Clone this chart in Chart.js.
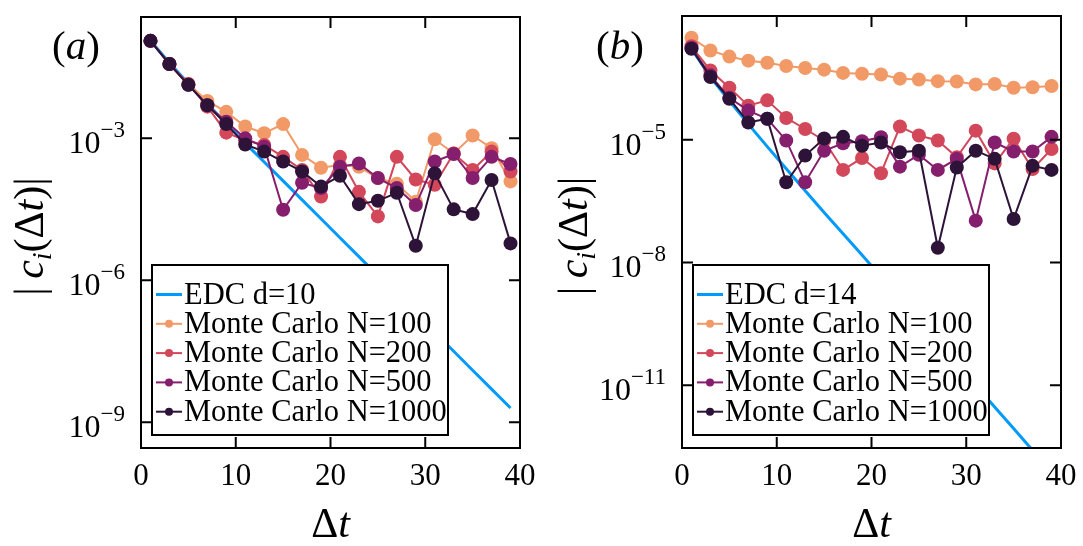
<!DOCTYPE html>
<html>
<head>
<meta charset="utf-8">
<script src="https://cdn.jsdelivr.net/npm/chart.js@4.4.0/dist/chart.umd.min.js"></script>
<style>
  html, body { margin: 0; padding: 0; background: #fff; }
  #wrap { display: flex; width: 1083px; height: 546px; }
  canvas { display: block; }
</style>
</head>
<body>
<div id="wrap">
  <canvas id="chartA" width="541" height="546"></canvas>
  <canvas id="chartB" width="542" height="546"></canvas>
</div>
<script>
// time steps (same for every series)
var dt = [1, 3, 5, 7, 9, 11, 13, 15, 17, 19, 21, 23, 25, 27, 29, 31, 33, 35, 37, 39];
var xTicks = [0, 10, 20, 30, 40];

// panel (a)
var yTicksA = [1e-3, 1e-6, 1e-9];
var yRangeA = [2.86e-10, 0.367];
var labelsA = ["EDC d=10", "Monte Carlo N=100", "Monte Carlo N=200", "Monte Carlo N=500", "Monte Carlo N=1000"];
var edcA = [1.15e-1, 3.98e-2, 1.45e-2, 5.37e-3, 2.04e-3, 7.94e-4, 3.16e-4, 1.26e-4, 5.01e-5, 2.00e-5,
            7.94e-6, 3.16e-6, 1.26e-6, 5.01e-7, 2.00e-7, 7.94e-8, 3.16e-8, 1.26e-8, 5.01e-9, 2.00e-9];
var mc100A = [1.15e-1, 3.72e-2, 1.41e-2, 6.17e-3, 3.63e-3, 1.78e-3, 1.29e-3, 2.00e-3, 4.47e-4, 2.40e-4,
              2.75e-4, 2.51e-4, 1.45e-4, 1.10e-4, 4.57e-5, 9.55e-4, 4.79e-4, 1.15e-3, 6.17e-4, 1.23e-4];
var mc200A = [1.15e-1, 3.72e-2, 1.41e-2, 4.68e-3, 1.32e-3, 9.12e-4, 7.24e-4, 4.07e-4, 2.14e-4, 5.89e-5,
              4.07e-4, 7.41e-5, 2.24e-5, 4.07e-4, 1.35e-4, 1.05e-4, 4.79e-4, 2.14e-4, 5.25e-4, 2.00e-4];
var mc500A = [1.15e-1, 3.72e-2, 1.35e-2, 5.01e-3, 2.24e-3, 1.00e-3, 6.61e-4, 3.09e-5, 1.15e-4, 8.91e-5,
              2.51e-4, 2.95e-4, 1.45e-4, 8.91e-5, 3.89e-5, 3.24e-4, 4.68e-4, 1.45e-4, 4.07e-4, 2.88e-4];
var mc1000A = [1.15e-1, 3.72e-2, 1.35e-2, 5.01e-3, 2.00e-3, 7.41e-4, 5.25e-4, 3.24e-4, 2.00e-4, 9.55e-5,
               1.62e-4, 4.07e-5, 4.79e-5, 7.08e-5, 5.37e-6, 1.82e-4, 3.16e-5, 2.51e-5, 1.32e-4, 6.03e-6];

// panel (b)
var yTicksB = [1e-5, 1e-8, 1e-11];
var yRangeB = [2.92e-13, 0.0105];
var labelsB = ["EDC d=14", "Monte Carlo N=100", "Monte Carlo N=200", "Monte Carlo N=500", "Monte Carlo N=1000"];
var edcB = [1.66e-3, 3.39e-4, 8.91e-5, 2.40e-5, 6.76e-6, 1.95e-6, 5.62e-7, 1.66e-7, 5.01e-8, 1.51e-8,
            4.47e-9, 1.32e-9, 3.89e-10, 1.15e-10, 3.39e-11, 1.00e-11, 2.95e-12, 8.71e-13, 2.57e-13, 7.59e-14];
var mc100B = [3.09e-3, 1.51e-3, 1.07e-3, 8.51e-4, 7.59e-4, 6.31e-4, 5.62e-4, 5.13e-4, 4.27e-4, 4.07e-4,
              3.89e-4, 3.09e-4, 2.95e-4, 2.69e-4, 2.63e-4, 2.24e-4, 2.29e-4, 1.86e-4, 1.91e-4, 2.04e-4];
var mc200B = [1.91e-3, 4.90e-4, 1.86e-4, 6.76e-5, 9.12e-5, 3.39e-5, 1.82e-5, 9.55e-6, 1.82e-6, 3.55e-6,
              1.51e-6, 2.09e-5, 1.26e-5, 9.55e-6, 3.72e-6, 1.66e-5, 2.63e-6, 1.05e-5, 1.91e-6, 5.89e-6];
var mc500B = [1.74e-3, 3.72e-4, 1.05e-4, 5.13e-5, 3.24e-5, 9.55e-6, 9.12e-7, 5.37e-6, 8.13e-6, 9.12e-6,
              1.15e-5, 2.19e-6, 4.27e-6, 1.82e-6, 3.39e-6, 1.05e-7, 8.51e-6, 5.13e-6, 5.13e-6, 1.17e-5];
var mc1000B = [1.66e-3, 3.39e-4, 1.00e-4, 2.63e-5, 3.24e-5, 9.12e-7, 4.07e-6, 1.07e-5, 1.17e-5, 7.08e-6,
               8.51e-6, 4.90e-6, 5.37e-6, 2.29e-8, 2.09e-6, 5.37e-6, 3.39e-6, 1.15e-7, 2.29e-6, 1.82e-6];

var colors = ["#009AFA", "#F29A67", "#D2475A", "#861E6E", "#2D1338"];
var serif = '"Liberation Serif", "DejaVu Serif", serif';

// draw a row of text pieces with different fonts / offsets
function drawRuns(ctx, parts, x, y, align) {
  var w = 0;
  parts.forEach(function (p) { ctx.font = p[1]; w += ctx.measureText(p[0]).width; });
  var cx = align === "center" ? x - w / 2 : (align === "right" ? x - w : x);
  ctx.textAlign = "left";
  ctx.textBaseline = "alphabetic";
  parts.forEach(function (p) {
    ctx.font = p[1];
    ctx.fillText(p[0], cx, y + (p[2] || 0));
    cx += ctx.measureText(p[0]).width;
  });
}

function drawLegend(chart, o) {
  var ctx = chart.ctx, a = chart.chartArea;
  var left = a.left + 11, bottom = a.bottom - 13, w = 296, h = 170;
  var top = bottom - h;
  ctx.save();
  ctx.fillStyle = "#fff";
  ctx.fillRect(left, top, w, h);
  ctx.strokeStyle = "#000";
  ctx.lineWidth = 2;
  ctx.strokeRect(left, top, w, h);
  chart.data.datasets.forEach(function (ds, i) {
    var y = top + 29.5 + i * 29.3;
    ctx.strokeStyle = ds.borderColor;
    ctx.lineWidth = i === 0 ? 3 : 2;
    ctx.beginPath();
    ctx.moveTo(left + 4, y);
    ctx.lineTo(left + 30, y);
    ctx.stroke();
    if (i > 0) {
      ctx.fillStyle = ds.borderColor;
      ctx.beginPath();
      ctx.arc(left + 17, y, 4, 0, Math.PI * 2);
      ctx.fill();
    }
    ctx.fillStyle = "#000";
    drawRuns(ctx, [[ds.label, "30.5px " + serif]], left + 32, y + 9, "left");
  });
  ctx.restore();
}

function drawFrame(chart, o) {
  var ctx = chart.ctx, a = chart.chartArea;
  var xs = chart.scales.x, ys = chart.scales.y;
  ctx.save();
  ctx.strokeStyle = "#000";
  ctx.lineWidth = 2;
  ctx.strokeRect(a.left, a.top, a.right - a.left, a.bottom - a.top);
  ctx.beginPath();
  xTicks.forEach(function (v) {
    var px = xs.getPixelForValue(v);
    ctx.moveTo(px, a.bottom); ctx.lineTo(px, a.bottom - 11);
    ctx.moveTo(px, a.top); ctx.lineTo(px, a.top + 11);
  });
  o.yTicks.forEach(function (v) {
    var py = ys.getPixelForValue(v);
    ctx.moveTo(a.left, py); ctx.lineTo(a.left + 11, py);
    ctx.moveTo(a.right, py); ctx.lineTo(a.right - 11, py);
  });
  ctx.stroke();

  ctx.fillStyle = "#000";
  // x tick labels
  xTicks.forEach(function (v) {
    drawRuns(ctx, [[String(v), "31px " + serif]], xs.getPixelForValue(v), a.bottom + 37, "center");
  });
  // y tick labels 10^n
  o.yTicks.forEach(function (v) {
    var e = Math.round(Math.log10(v));
    var py = ys.getPixelForValue(v);
    drawRuns(ctx, [["10", "32px " + serif], ["\u2212" + Math.abs(e), "23px " + serif, -16]],
      a.left - 16, py + 15, "right");
  });
  // x title
  var cxm = (a.left + a.right) / 2;
  drawRuns(ctx, [["\u0394", "42px " + serif], ["t", "italic 42px " + serif]], cxm, a.bottom + 89, "center");
  // y title
  ctx.save();
  ctx.translate(o.yTitleX, (a.top + a.bottom) / 2 + 4);
  ctx.rotate(-Math.PI / 2);
  drawRuns(ctx, [
    ["|", "42px " + serif], ["\u2009", "42px " + serif],
    ["c", "italic 42px " + serif], ["i", "italic 28px " + serif, 8],
    ["(", "42px " + serif], ["\u0394", "42px " + serif], ["t", "italic 42px " + serif],
    [")", "42px " + serif], ["|", "42px " + serif]
  ], 0, 13, "center");
  ctx.restore();
  // panel label
  drawRuns(ctx, [["(", "41px " + serif], [o.panel, "italic 41px " + serif], [")", "41px " + serif]],
    o.panelX, 59, "center");
  ctx.restore();
}

var framePlugin = {
  id: "frame",
  afterDatasetsDraw: function (chart, args, o) { drawLegend(chart, o); },
  afterDraw: function (chart, args, o) { drawFrame(chart, o); }
};

function pts(arr) {
  return dt.map(function (x, i) { return { x: x, y: arr[i] }; });
}

function makeChart(id, series, labels, yTicks, yRange, extra) {
  var datasets = series.map(function (s, i) {
    return {
      label: labels[i],
      data: pts(s),
      borderColor: colors[i],
      backgroundColor: colors[i],
      borderWidth: i === 0 ? 3 : 2,
      pointRadius: i === 0 ? 0 : 7,
      pointBorderWidth: 0,
      pointHoverRadius: 0,
      tension: 0,
      order: 5 - i
    };
  });
  return new Chart(document.getElementById(id).getContext("2d"), {
    type: "line",
    data: { datasets: datasets },
    options: {
      responsive: false,
      animation: false,
      events: [],
      layout: { padding: extra.padding },
      scales: {
        x: { type: "linear", min: 0, max: 40, display: false },
        y: { type: "logarithmic", min: yRange[0], max: yRange[1], display: false }
      },
      plugins: {
        legend: { display: false },
        tooltip: { enabled: false },
        frame: { yTicks: yTicks, panel: extra.panel, panelX: extra.panelX, yTitleX: extra.yTitleX }
      }
    },
    plugins: [framePlugin]
  });
}

makeChart("chartA", [edcA, mc100A, mc200A, mc500A, mc1000A], labelsA, yTicksA, yRangeA,
  { padding: { left: 141, right: 21, top: 17, bottom: 98 }, panel: "a", panelX: 76, yTitleX: 30 });
makeChart("chartB", [edcB, mc100B, mc200B, mc500B, mc1000B], labelsB, yTicksB, yRangeB,
  { padding: { left: 141, right: 22, top: 16, bottom: 98 }, panel: "b", panelX: 79, yTitleX: 33 });
</script>
</body>
</html>
